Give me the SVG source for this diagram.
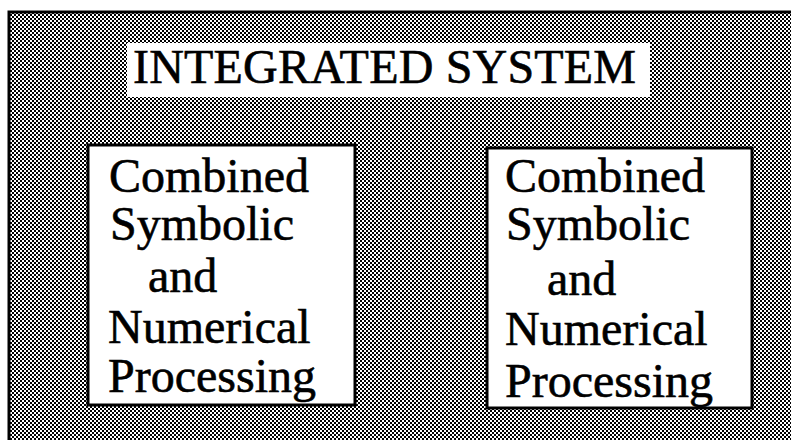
<svg xmlns="http://www.w3.org/2000/svg" width="791" height="440" viewBox="0 0 791 440">
  <defs>
    <pattern id="dither" width="4" height="4" patternUnits="userSpaceOnUse">
      <rect width="4" height="4" fill="#ffffff"/>
      <rect x="0" y="0" width="2" height="2" fill="#000000"/>
      <rect x="2" y="2" width="2" height="2" fill="#000000"/>
    </pattern>
    <style>
      .box { fill: #ffffff; stroke: #000000; stroke-width: 3; }
      .lbl { font-family: "Liberation Serif", "Times New Roman", serif; font-size: 48px; fill: #000000; stroke: #000000; stroke-width: 0.6; }
    </style>
  </defs>
  <rect width="791" height="440" fill="#ffffff"/>
  <g id="frame">
    <rect x="9" y="12" width="800" height="450" fill="url(#dither)" stroke="#000000" stroke-width="3"/>
  </g>
  <g id="title">
    <rect x="127" y="43" width="523" height="54" fill="#ffffff"/>
    <text class="lbl" x="133" y="83" textLength="503">INTEGRATED SYSTEM</text>
  </g>
  <g id="connectors"></g>
  <g id="node-left">
    <rect class="box" x="88" y="145" width="267" height="260"/>
    <text class="lbl" x="109" y="192">Combined</text>
    <text class="lbl" x="110" y="240">Symbolic</text>
    <text class="lbl" x="148" y="292">and</text>
    <text class="lbl" x="108" y="343">Numerical</text>
    <text class="lbl" x="108" y="392">Processing</text>
  </g>
  <g id="node-right">
    <rect class="box" x="487" y="148" width="265" height="260"/>
    <text class="lbl" x="505" y="192">Combined</text>
    <text class="lbl" x="506" y="240">Symbolic</text>
    <text class="lbl" x="547" y="295">and</text>
    <text class="lbl" x="505" y="345">Numerical</text>
    <text class="lbl" x="505" y="397">Processing</text>
  </g>
</svg>
